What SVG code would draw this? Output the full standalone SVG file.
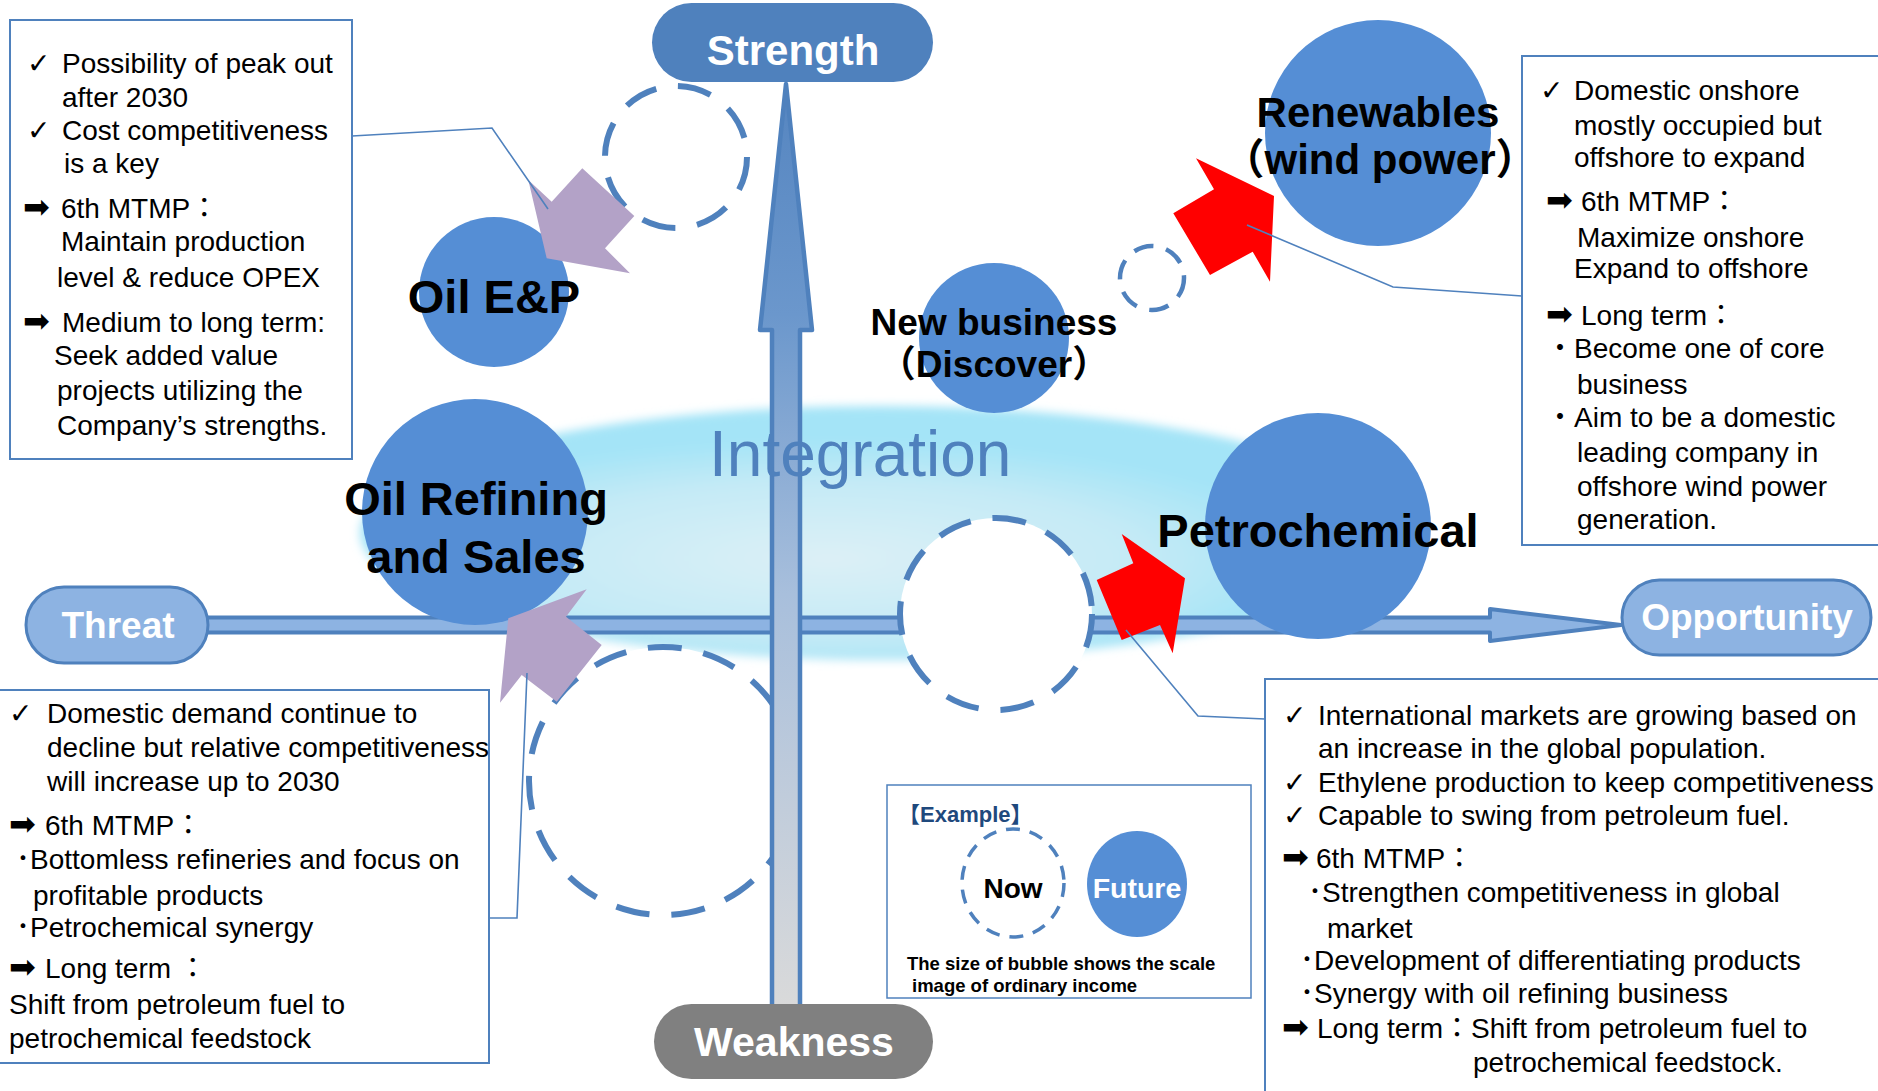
<svg xmlns="http://www.w3.org/2000/svg" width="1878" height="1091" viewBox="0 0 1878 1091">
<defs>
<style>
.t{font-family:"Liberation Sans","Noto Sans CJK JP",sans-serif;font-size:28px;fill:#000}
.ck{font-family:"DejaVu Sans",sans-serif;font-size:28px;fill:#000}
.ar{font-family:"DejaVu Sans",sans-serif;font-size:32px;fill:#000}
.lbl{font-family:"Liberation Sans","Noto Sans CJK JP",sans-serif;font-weight:bold;text-anchor:middle;fill:#000}
.wl{font-family:"Liberation Sans",sans-serif;font-weight:bold;text-anchor:middle;fill:#fff}
.box{fill:#fff;stroke:#4f81bd;stroke-width:2}
.bub{fill:#558ed5}
.dash{fill:#fff;stroke:#4f81bd;stroke-width:6;stroke-dasharray:34 22}
.conn{fill:none;stroke:#4f81bd;stroke-width:1.6}
.pur{fill:#b3a2c7}
.red{fill:#ff0000}
</style>
<radialGradient id="glowG" cx="0.45" cy="0.6" r="0.55">
<stop offset="0" stop-color="#dcf0f6"/>
<stop offset="0.55" stop-color="#c4eaf6"/>
<stop offset="0.85" stop-color="#a4e4f7"/>
<stop offset="1" stop-color="#a4e4f7"/>
</radialGradient>
<filter id="soft" x="-10%" y="-20%" width="120%" height="140%">
<feGaussianBlur stdDeviation="5"/>
</filter>
<linearGradient id="vG" gradientUnits="userSpaceOnUse" x1="0" y1="82" x2="0" y2="1012">
<stop offset="0" stop-color="#5585c0"/>
<stop offset="0.25" stop-color="#6b97cc"/>
<stop offset="0.55" stop-color="#a8bfdc"/>
<stop offset="1" stop-color="#dadada"/>
</linearGradient>
</defs>

<rect width="1878" height="1091" fill="#fff"/>

<g id="integration-glow">
<ellipse cx="880" cy="533" rx="520" ry="127" fill="url(#glowG)" filter="url(#soft)"/>
</g>

<g id="axis-horizontal">
<polygon points="200,617.5 1490,617.5 1490,609 1621,625 1490,641 1490,632.5 200,632.5" fill="#8db3e2" stroke="#4f81bd" stroke-width="4" stroke-linejoin="round"/>
</g>

<g id="now-bubbles">
<circle cx="676" cy="157" r="71" class="dash"/>
<circle cx="663" cy="781" r="134" class="dash"/>
<circle cx="996" cy="614" r="96" class="dash"/>
<circle cx="1152" cy="278" r="32" fill="none" stroke="#4f81bd" stroke-width="4.5" stroke-dasharray="20 13"/>
</g>

<g id="axis-vertical">
<polygon points="786,84 812,330 800,330 800,1010 772,1010 772,330 760,330" fill="url(#vG)" stroke="#4f81bd" stroke-width="4.5" stroke-linejoin="round"/>
</g>

<g id="strength">
<rect x="652" y="3" width="281" height="79" rx="39.5" fill="#4f81bd"/>
<text x="793" y="65" class="wl" font-size="42">Strength</text>
</g>
<g id="weakness">
<rect x="654" y="1004" width="279" height="75" rx="37.5" fill="#808080"/>
<text x="794" y="1056" class="wl" font-size="41">Weakness</text>
</g>
<g id="threat">
<rect x="26" y="587" width="182" height="76" rx="38" fill="#8db3e2" stroke="#4f81bd" stroke-width="3"/>
<text x="118" y="638" class="wl" font-size="37">Threat</text>
</g>
<g id="opportunity">
<rect x="1622" y="580" width="249" height="75" rx="37.5" fill="#8db3e2" stroke="#4f81bd" stroke-width="3"/>
<text x="1747" y="630" class="wl" font-size="37">Opportunity</text>
</g>

<g id="integration-label">
<text x="709" y="476" font-family="Liberation Sans, sans-serif" font-size="64" fill="#4f81bd">Integration</text>
</g>

<g id="oil-ep">
<circle cx="494" cy="292" r="75" class="bub"/>
<text x="494" y="313" class="lbl" font-size="47">Oil E&amp;P</text>
</g>
<g id="oil-refining">
<circle cx="475" cy="512" r="113" class="bub"/>
<text x="476" y="515" class="lbl" font-size="47">Oil Refining</text>
<text x="476" y="573" class="lbl" font-size="47">and Sales</text>
</g>
<g id="new-business">
<circle cx="994" cy="338" r="75" class="bub"/>
<text x="994" y="335" class="lbl" font-size="37">New business</text>
<text x="994" y="377" class="lbl" font-size="37">（Discover）</text>
</g>
<g id="renewables">
<circle cx="1378" cy="133" r="113" class="bub"/>
<text x="1378" y="127" class="lbl" font-size="42">Renewables</text>
<text x="1380" y="174" class="lbl" font-size="42">（wind power）</text>
</g>
<g id="petrochemical">
<circle cx="1318" cy="526" r="113" class="bub"/>
<text x="1318" y="547" class="lbl" font-size="47">Petrochemical</text>
</g>

<g id="transition-arrows">
<polygon class="pur" points="546.7,258.3 528.3,180 551.7,201.7 582.3,168.3 634.3,216 605,248.3 630,273.3"/>
<polygon class="pur" points="508.3,618.3 586.7,589.3 566,616.7 601.7,645 556.7,701.7 521.7,675 500,702.7"/>
<polygon class="red" points="1274,196 1196,158.3 1214,189.3 1173.3,213.3 1210,275 1252.7,251.7 1270,281.7"/>
<polygon class="red" points="1185,578.3 1121.7,534 1133.3,563.3 1096.7,580 1121.7,640 1160,625 1172.7,653.3"/>
</g>

<g id="box-oil-ep">
<rect x="10" y="20" width="342" height="439" class="box"/>
<text x="27" y="73" class="ck">✓</text>
<text x="62" y="73" class="t">Possibility of peak out</text>
<text x="62" y="107" class="t">after 2030</text>
<text x="27" y="140" class="ck">✓</text>
<text x="62" y="140" class="t">Cost competitiveness</text>
<text x="64" y="173" class="t">is a key</text>
<text x="23" y="218" class="ar">➡</text>
<text x="61" y="218" class="t">6th MTMP：</text>
<text x="61" y="251" class="t">Maintain production</text>
<text x="57" y="287" class="t">level &amp; reduce OPEX</text>
<text x="23" y="332" class="ar">➡</text>
<text x="62" y="332" class="t">Medium to long term:</text>
<text x="54" y="365" class="t">Seek added value</text>
<text x="57" y="400" class="t">projects utilizing the</text>
<text x="57" y="435" class="t">Company’s strengths.</text>
</g>

<g id="box-renewables">
<rect x="1522" y="56" width="360" height="489" class="box"/>
<text x="1540" y="100" class="ck">✓</text>
<text x="1574" y="100" class="t">Domestic onshore</text>
<text x="1574" y="135" class="t">mostly occupied but</text>
<text x="1574" y="167" class="t">offshore to expand</text>
<text x="1546" y="211" class="ar">➡</text>
<text x="1581" y="211" class="t">6th MTMP：</text>
<text x="1577" y="247" class="t">Maximize onshore</text>
<text x="1574" y="278" class="t">Expand to offshore</text>
<text x="1546" y="325" class="ar">➡</text>
<text x="1581" y="325" class="t">Long term：</text>
<text x="1546" y="358" class="t">・Become one of core</text>
<text x="1577" y="394" class="t">business</text>
<text x="1546" y="427" class="t">・Aim to be a domestic</text>
<text x="1577" y="462" class="t">leading company in</text>
<text x="1577" y="496" class="t">offshore wind power</text>
<text x="1577" y="529" class="t">generation.</text>
</g>

<g id="box-oil-refining">
<rect x="-2" y="690" width="491" height="373" class="box"/>
<text x="9" y="723" class="ck">✓</text>
<text x="47" y="723" class="t">Domestic demand continue to</text>
<text x="47" y="757" class="t">decline but relative competitiveness</text>
<text x="47" y="791" class="t">will increase up to 2030</text>
<text x="9" y="835" class="ar">➡</text>
<text x="45" y="835" class="t">6th MTMP：</text>
<text x="16" y="869" class="t">･Bottomless refineries and focus on</text>
<text x="33" y="905" class="t">profitable products</text>
<text x="16" y="937" class="t">･Petrochemical synergy</text>
<text x="9" y="978" class="ar">➡</text>
<text x="45" y="978" class="t">Long term ：</text>
<text x="9" y="1014" class="t">Shift from petroleum fuel to</text>
<text x="9" y="1048" class="t">petrochemical feedstock</text>
</g>

<g id="box-petrochemical">
<rect x="1265" y="679" width="620" height="420" class="box"/>
<text x="1283" y="725" class="ck">✓</text>
<text x="1318" y="725" class="t">International markets are growing based on</text>
<text x="1318" y="758" class="t">an increase in the global population.</text>
<text x="1283" y="792" class="ck">✓</text>
<text x="1318" y="792" class="t">Ethylene production to keep competitiveness</text>
<text x="1283" y="825" class="ck">✓</text>
<text x="1318" y="825" class="t">Capable to swing from petroleum fuel.</text>
<text x="1282" y="868" class="ar">➡</text>
<text x="1316" y="868" class="t">6th MTMP：</text>
<text x="1308" y="902" class="t">･Strengthen competitiveness in global</text>
<text x="1327" y="938" class="t">market</text>
<text x="1300" y="970" class="t">･Development of differentiating products</text>
<text x="1300" y="1003" class="t">･Synergy with oil refining business</text>
<text x="1282" y="1038" class="ar">➡</text>
<text x="1317" y="1038" class="t">Long term：Shift from petroleum fuel to</text>
<text x="1473" y="1072" class="t">petrochemical feedstock.</text>
</g>

<g id="connectors">
<polyline class="conn" points="352,136 492,128 548,209"/>
<polyline class="conn" points="1522,296 1393,287 1247,225"/>
<polyline class="conn" points="489,918 517,918 527,673"/>
<polyline class="conn" points="1265,719 1198,716 1126,630"/>
</g>

<g id="legend">
<rect x="887" y="785" width="364" height="213" fill="#fff" stroke="#4f81bd" stroke-width="1.5"/>
<text x="898" y="822" font-family="Liberation Sans, Noto Sans CJK JP, sans-serif" font-size="22" font-weight="bold" fill="#1f497d">【Example】</text>
<ellipse cx="1013" cy="883" rx="51" ry="54" fill="#fff" stroke="#4f81bd" stroke-width="3.5" stroke-dasharray="14 10"/>
<text x="1013" y="898" class="lbl" font-size="28">Now</text>
<ellipse cx="1137" cy="884" rx="50" ry="53" class="bub"/>
<text x="1137" y="898" class="wl" font-size="28.5">Future</text>
<text x="907" y="970" font-family="Liberation Sans, sans-serif" font-size="18.5" font-weight="bold">The size of bubble shows the scale</text>
<text x="912" y="992" font-family="Liberation Sans, sans-serif" font-size="18.5" font-weight="bold">image of ordinary income</text>
</g>
</svg>
